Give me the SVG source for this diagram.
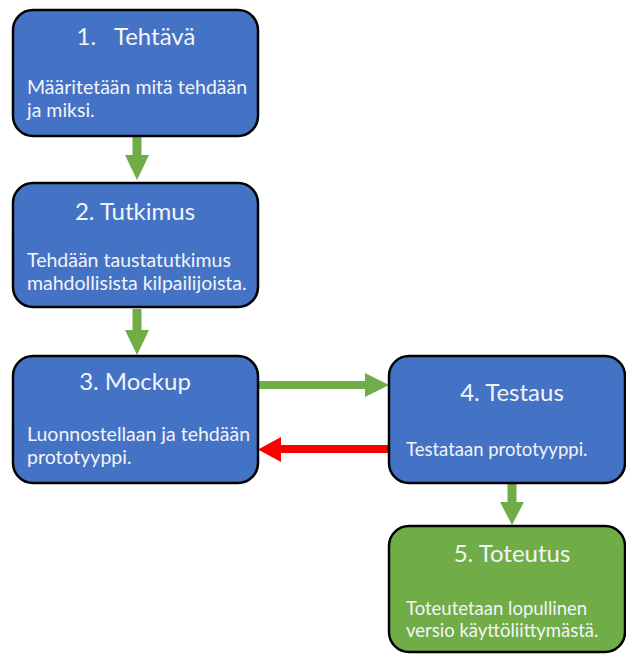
<svg xmlns="http://www.w3.org/2000/svg" width="626" height="654" viewBox="0 0 626 654">
<style>
.box{stroke:#000;stroke-width:2.5}
.blue{fill:#4472C4}
.green{fill:#70AD47}
.t{font-family:Lato,"Liberation Sans",Arial,sans-serif;fill:#F2F4FA;white-space:pre}
.title{font-size:24px;text-anchor:middle}
.body{font-size:19.5px}
.body2{font-size:18.5px}
.ag{fill:#70AD47}
.ar{fill:#FF0000}
</style>
<rect width="626" height="654" fill="#fff"/>
<g id="connectors">
<polygon class="ag" points="132.5,136 141.5,136 141.5,155 149,155 137,180 125,155 132.5,155"/>
<polygon class="ag" points="132.5,309 141.5,309 141.5,330 149,330 137,355 125,330 132.5,330"/>
<polygon class="ag" points="258,381 365,381 365,373 389,385 365,397 365,389 258,389"/>
<polygon class="ar" points="390,445 281,445 281,437 258,449.5 281,462 281,453 390,453"/>
<polygon class="ag" points="507.5,484 516.5,484 516.5,502 524,502 512,525 500,502 507.5,502"/>
</g>
<g id="node1">
<rect class="box blue" x="13" y="10" width="245" height="126" rx="20"/>
<text class="t title" x="136" y="45">1.   Tehtävä</text>
<text class="t body" x="27" y="94">Määritetään mitä tehdään</text>
<text class="t body" x="27" y="117">ja miksi.</text>
</g>
<g id="node2">
<rect class="box blue" x="13" y="183" width="245" height="124" rx="20"/>
<text class="t title" x="135" y="220">2. Tutkimus</text>
<text class="t body" x="27" y="267">Tehdään taustatutkimus</text>
<text class="t body" x="27" y="290">mahdollisista kilpailijoista.</text>
</g>
<g id="node3">
<rect class="box blue" x="13" y="356" width="245" height="127" rx="20"/>
<text class="t title" x="135" y="390">3. Mockup</text>
<text class="t body" x="27" y="441">Luonnostellaan ja tehdään</text>
<text class="t body" x="27" y="464">prototyyppi.</text>
</g>
<g id="node4">
<rect class="box blue" x="389" y="356" width="236" height="127" rx="20"/>
<text class="t title" x="512" y="401">4. Testaus</text>
<text class="t body2" x="406" y="456">Testataan prototyyppi.</text>
</g>
<g id="node5">
<rect class="box green" x="389" y="526" width="236" height="126" rx="20"/>
<text class="t title" x="512" y="562">5. Toteutus</text>
<text class="t body2" x="406" y="615">Toteutetaan lopullinen</text>
<text class="t body2" x="406" y="637">versio käyttöliittymästä.</text>
</g>
</svg>
